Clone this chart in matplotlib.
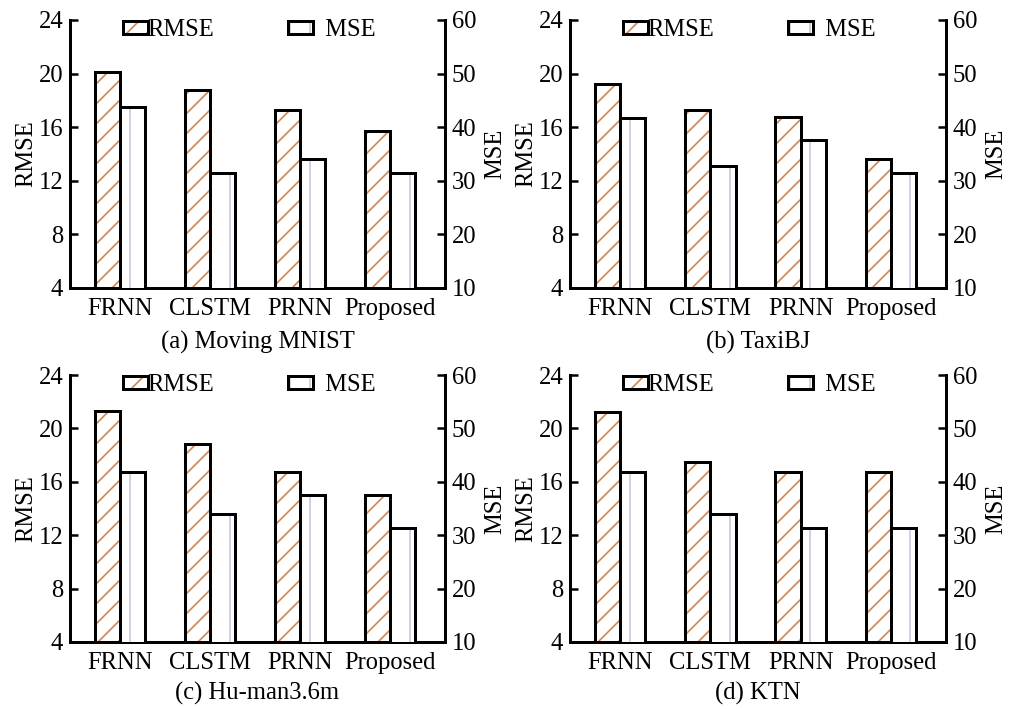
import numpy as np
import matplotlib
matplotlib.use('Agg')
import matplotlib.pyplot as plt
from matplotlib.patches import Patch

# ---------------- data ----------------
methods = ['FRNN', 'CLSTM', 'PRNN', 'Proposed']
panel_titles = ['(a) Moving MNIST', '(b) TaxiBJ', '(c) Hu-man3.6m', '(d) KTN']

rmse_mnist = [20.1, 18.8, 17.25, 15.7]
mse_mnist = [43.8, 31.4, 34.0, 31.4]
rmse_taxi = [19.2, 17.25, 16.75, 13.6]
mse_taxi = [41.8, 32.8, 37.6, 31.4]
rmse_human = [21.3, 18.8, 16.7, 15.0]
mse_human = [41.8, 33.9, 37.5, 31.3]
rmse_ktn = [21.25, 17.45, 16.7, 16.7]
mse_ktn = [41.8, 33.9, 31.3, 31.3]

rmse_ticks = [4, 8, 12, 16, 20, 24]
mse_ticks = [10, 20, 30, 40, 50, 60]

rmse_sets = [rmse_mnist, rmse_taxi, rmse_human, rmse_ktn]
mse_sets = [mse_mnist, mse_taxi, mse_human, mse_ktn]

# ---------------- style ----------------
DPI = 120
W, H = 1013, 709
plt.rcParams['font.family'] = ['Liberation Serif', 'DejaVu Serif']
plt.rcParams['hatch.linewidth'] = 1.0
FS = 14.8
ORANGE = '#C8885A'
LAV = '#CDC6E0'
LW = 1.8

fig = plt.figure(figsize=(W / DPI, H / DPI), dpi=DPI)

# pixel rects: left, top, right, bottom
rects = [(70, 20, 445, 288), (570, 20, 946, 288),
         (70, 375, 445, 642), (570, 375, 946, 642)]
cap_offsets = [54, 54, 51, 51]

w = 0.28
x = np.arange(len(methods))

for k in range(4):
    l, t, r, b = rects[k]
    ax = fig.add_axes([l / W, 1 - b / H, (r - l) / W, (b - t) / H])
    ax2 = ax.twinx()

    # RMSE bars (hatched, left of tick)
    ax.bar(x - w / 2, rmse_sets[k], width=w, color='white', edgecolor=ORANGE,
           hatch='//', linewidth=0, zorder=2)
    ax.bar(x - w / 2, rmse_sets[k], width=w, fill=False, edgecolor='black',
           linewidth=LW, zorder=3)
    # MSE bars (right of tick)
    ax2.bar(x + w / 2, mse_sets[k], width=w, color='white', edgecolor=LAV,
            hatch='|', linewidth=0, zorder=2)
    ax2.bar(x + w / 2, mse_sets[k], width=w, fill=False, edgecolor='black',
            linewidth=LW, zorder=3)

    ax.set_xlim(-0.553, 3.61)
    ax.set_ylim(rmse_ticks[0], rmse_ticks[-1])
    ax2.set_ylim(mse_ticks[0], mse_ticks[-1])
    ax.set_yticks(rmse_ticks)
    ax2.set_yticks(mse_ticks)
    ax.set_xticks(x)
    ax.set_xticklabels(methods, fontsize=FS)

    for a in (ax, ax2):
        a.spines['top'].set_visible(False)
        for s in a.spines.values():
            s.set_linewidth(LW)
    ax.spines['right'].set_visible(False)
    ax2.spines['left'].set_visible(False)
    ax2.spines['bottom'].set_visible(False)

    ax.tick_params(axis='y', direction='in', length=4.8, width=1.5,
                   labelsize=FS, pad=4)
    ax2.tick_params(axis='y', direction='in', length=4.8, width=1.5,
                    labelsize=FS, pad=4)
    ax.tick_params(axis='x', length=0, labelsize=FS, pad=6)

    ax.set_ylabel('RMSE', fontsize=FS, labelpad=1)
    ax2.set_ylabel('MSE', fontsize=FS, labelpad=5)

    ax.text(0.5, -cap_offsets[k] / (b - t), panel_titles[k], transform=ax.transAxes,
            ha='center', va='center', fontsize=FS)

    h1 = (Patch(facecolor='white', edgecolor=ORANGE, hatch='//', linewidth=0),
          Patch(fill=False, edgecolor='black', linewidth=LW))
    h2 = (Patch(facecolor='white', edgecolor=LAV, hatch='|', linewidth=0),
          Patch(fill=False, edgecolor='black', linewidth=LW))
    ax2.legend([h1, h2], ['RMSE', '  MSE'], loc='center left',
               bbox_to_anchor=(0.141, 1 - 10 / (b - t)), ncol=2, frameon=False,
               fontsize=FS, handlelength=1.0, handleheight=0.45,
               handletextpad=0.0, columnspacing=3.0, borderpad=0,
               borderaxespad=0)

fig.savefig('out.png', dpi=DPI)
